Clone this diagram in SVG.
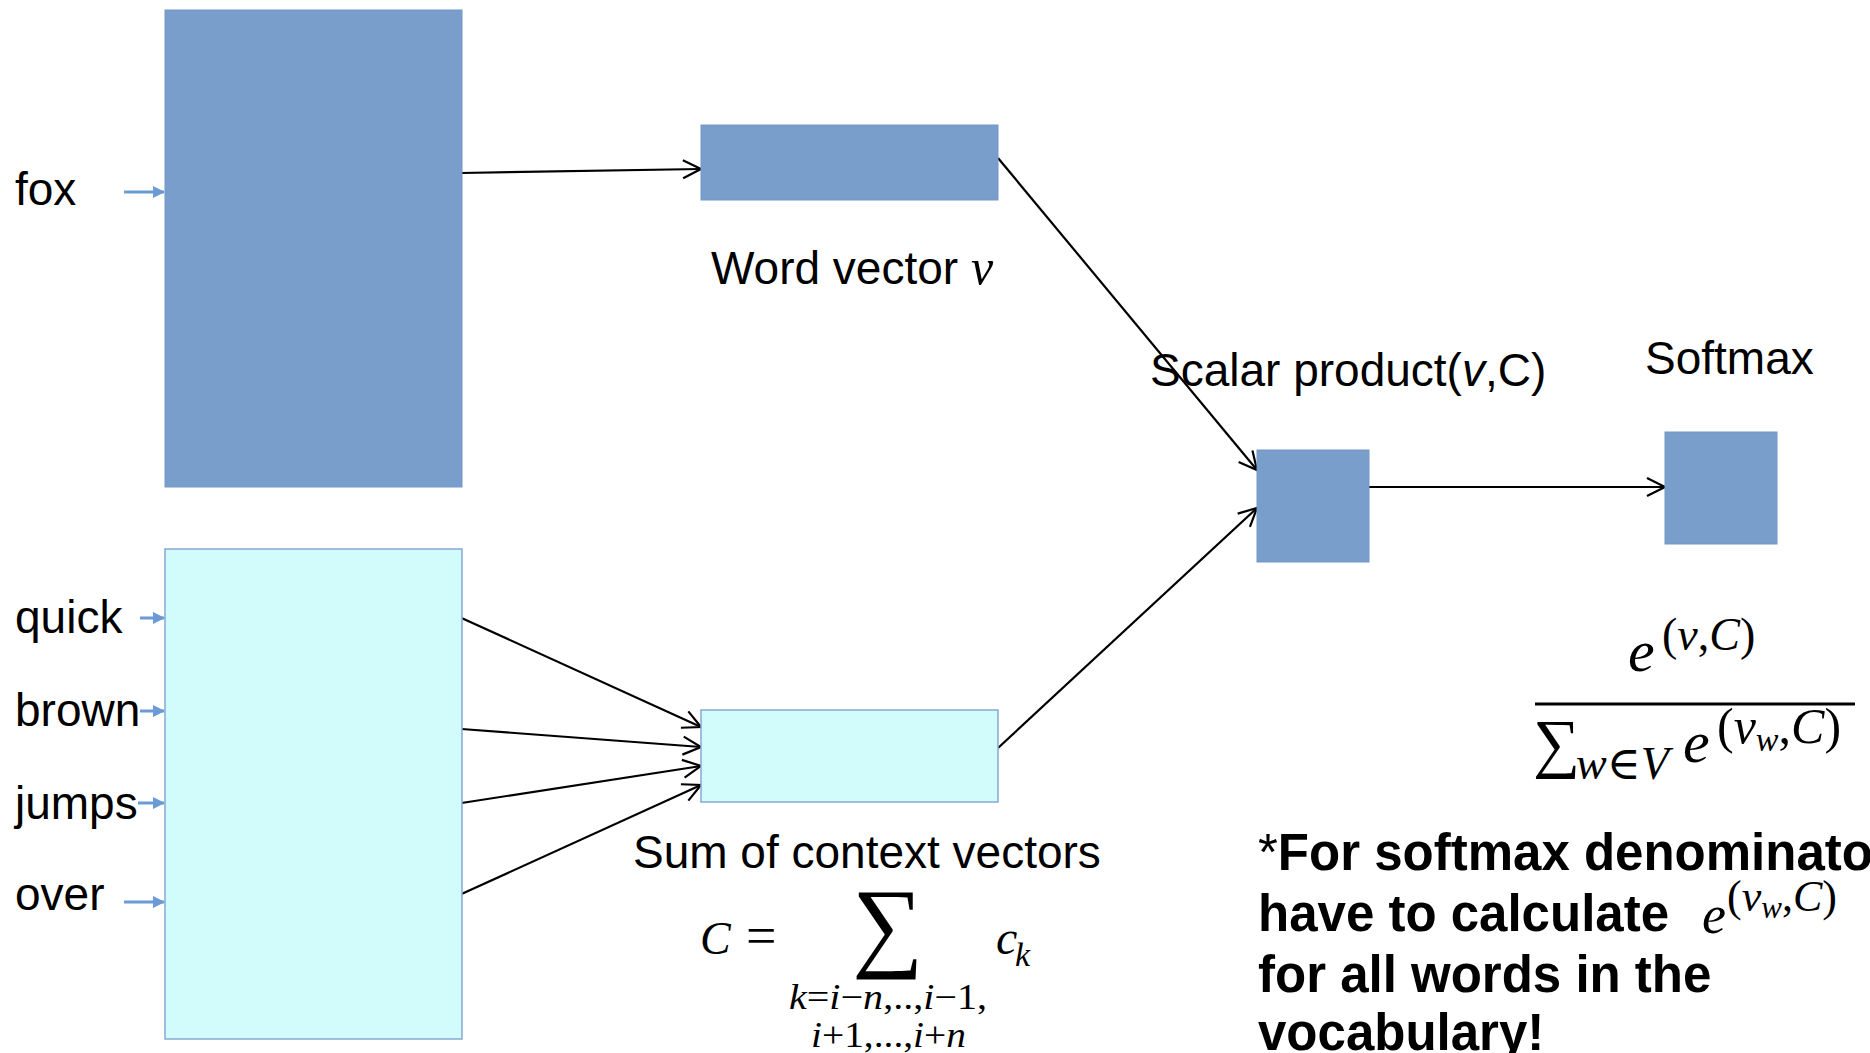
<svg xmlns="http://www.w3.org/2000/svg" width="1870" height="1053" viewBox="0 0 1870 1053">
<defs>
<style>
.lbl{font-family:"Liberation Sans",Arial,sans-serif;font-size:46px;fill:#000}
.math{font-family:"Liberation Serif","DejaVu Serif",serif;fill:#000}
.it{font-style:italic}
.bold{font-family:"Liberation Sans",Arial,sans-serif;font-size:51px;font-weight:bold;fill:#000}
.blue{fill:#7a9ecb;stroke:#7397c6;stroke-width:1}
.cyan{fill:#d2fbfb;stroke:#86a9d2;stroke-width:1.5}
.conn{stroke:#000;stroke-width:2.2;fill:none;marker-end:url(#open)}
.inarr{stroke:#6a9bd6;stroke-width:3;fill:none;marker-end:url(#solid)}
</style>
<marker id="open" viewBox="0 0 22 22" refX="20" refY="11" markerWidth="22" markerHeight="22" markerUnits="userSpaceOnUse" orient="auto">
<path d="M2,2 L20,11 L2,20" fill="none" stroke="#000" stroke-width="2.2"/>
</marker>
<marker id="solid" viewBox="0 0 12 12" refX="11" refY="6" markerWidth="12" markerHeight="12" markerUnits="userSpaceOnUse" orient="auto">
<path d="M0,0 L12,6 L0,12 Z" fill="#6a9bd6"/>
</marker>
</defs>
<rect width="1870" height="1053" fill="#fff"/>

<g id="connectors">
<line class="inarr" x1="124" y1="192" x2="164" y2="192"/>
<line class="inarr" x1="140" y1="618" x2="164" y2="618"/>
<line class="inarr" x1="140" y1="711" x2="164" y2="711"/>
<line class="inarr" x1="138" y1="803" x2="164" y2="803"/>
<line class="inarr" x1="124" y1="902" x2="164" y2="902"/>
<line class="conn" x1="461.5" y1="173" x2="701" y2="169"/>
<line class="conn" x1="998" y1="158" x2="1257" y2="470"/>
<line class="conn" x1="461.5" y1="618" x2="701" y2="727"/>
<line class="conn" x1="461.5" y1="729" x2="701" y2="747"/>
<line class="conn" x1="461.5" y1="803" x2="701" y2="766"/>
<line class="conn" x1="461.5" y1="894" x2="701" y2="785"/>
<line class="conn" x1="998" y1="748" x2="1257" y2="508"/>
<line class="conn" x1="1369" y1="487" x2="1665" y2="487"/>
</g>

<g id="inputs">
<text class="lbl" x="15" y="205">fox</text>
<text class="lbl" x="15" y="633">quick</text>
<text class="lbl" x="15" y="726">brown</text>
<text class="lbl" x="15" y="819">jumps</text>
<text class="lbl" x="15" y="910">over</text>
</g>

<g id="word-matrix"><rect class="blue" x="165" y="10" width="297" height="477"/></g>
<g id="context-matrix"><rect class="cyan" x="165" y="549" width="297" height="490"/></g>

<g id="word-vector">
<rect class="blue" x="701" y="125" width="297" height="75"/>
<text class="lbl" x="711" y="284">Word vector <tspan class="math it" font-size="50">v</tspan></text>
</g>

<g id="context-sum">
<rect class="cyan" x="701" y="710" width="297" height="92"/>
<text class="lbl" x="633" y="868" font-size="45">Sum of context vectors</text>
<text class="math it" x="700" y="954" font-size="46">C</text>
<text class="math" x="746" y="954" font-size="54">=</text>
<text class="math" x="852" y="958" font-size="100">∑</text>
<text class="math it" x="996" y="954" font-size="48">c</text>
<text class="math it" x="1015" y="966" font-size="34">k</text>
<text class="math" x="789" y="1009" font-size="36" textLength="198" lengthAdjust="spacingAndGlyphs"><tspan class="it">k</tspan>=<tspan class="it">i</tspan>−<tspan class="it">n</tspan>,..,<tspan class="it">i</tspan>−1,</text>
<text class="math" x="811" y="1047" font-size="36" textLength="155" lengthAdjust="spacingAndGlyphs"><tspan class="it">i</tspan>+1,...,<tspan class="it">i</tspan>+<tspan class="it">n</tspan></text>
</g>

<g id="scalar-product">
<rect class="blue" x="1257" y="450" width="112" height="112"/>
<text class="lbl" x="1150" y="386" font-size="48">Scalar product(<tspan class="it">v</tspan>,C)</text>
</g>

<g id="softmax">
<rect class="blue" x="1665" y="432" width="112" height="112"/>
<text class="lbl" x="1645" y="374">Softmax</text>
<text class="math it" x="1628" y="671" font-size="60">e</text>
<text class="math" x="1662" y="650" font-size="46">(<tspan class="it">v</tspan>,<tspan class="it">C</tspan>)</text>
<line x1="1535" y1="704" x2="1855" y2="704" stroke="#000" stroke-width="3"/>
<text class="math" x="1533" y="765" font-size="66">∑</text>
<text class="math" x="1576" y="779" font-size="46"><tspan class="it">w</tspan>∈<tspan class="it">V</tspan></text>
<text class="math it" x="1683" y="762" font-size="60">e</text>
<text class="math" x="1717" y="743" font-size="50">(<tspan class="it">v</tspan><tspan class="it" font-size="34" dy="8">w</tspan><tspan dy="-8">,</tspan><tspan class="it">C</tspan>)</text>
</g>

<g id="note">
<text class="bold" x="1258" y="870"><tspan font-weight="normal">*</tspan>For softmax denominator</text>
<text class="bold" x="1258" y="931">have to calculate</text>
<text class="math it" x="1702" y="933" font-size="54">e</text>
<text class="math" x="1727" y="911" font-size="44">(<tspan class="it">v</tspan><tspan class="it" font-size="31" dy="7">w</tspan><tspan dy="-7">,</tspan><tspan class="it">C</tspan>)</text>
<text class="bold" x="1258" y="992">for all words in the</text>
<text class="bold" x="1258" y="1050">vocabulary!</text>
</g>
</svg>
